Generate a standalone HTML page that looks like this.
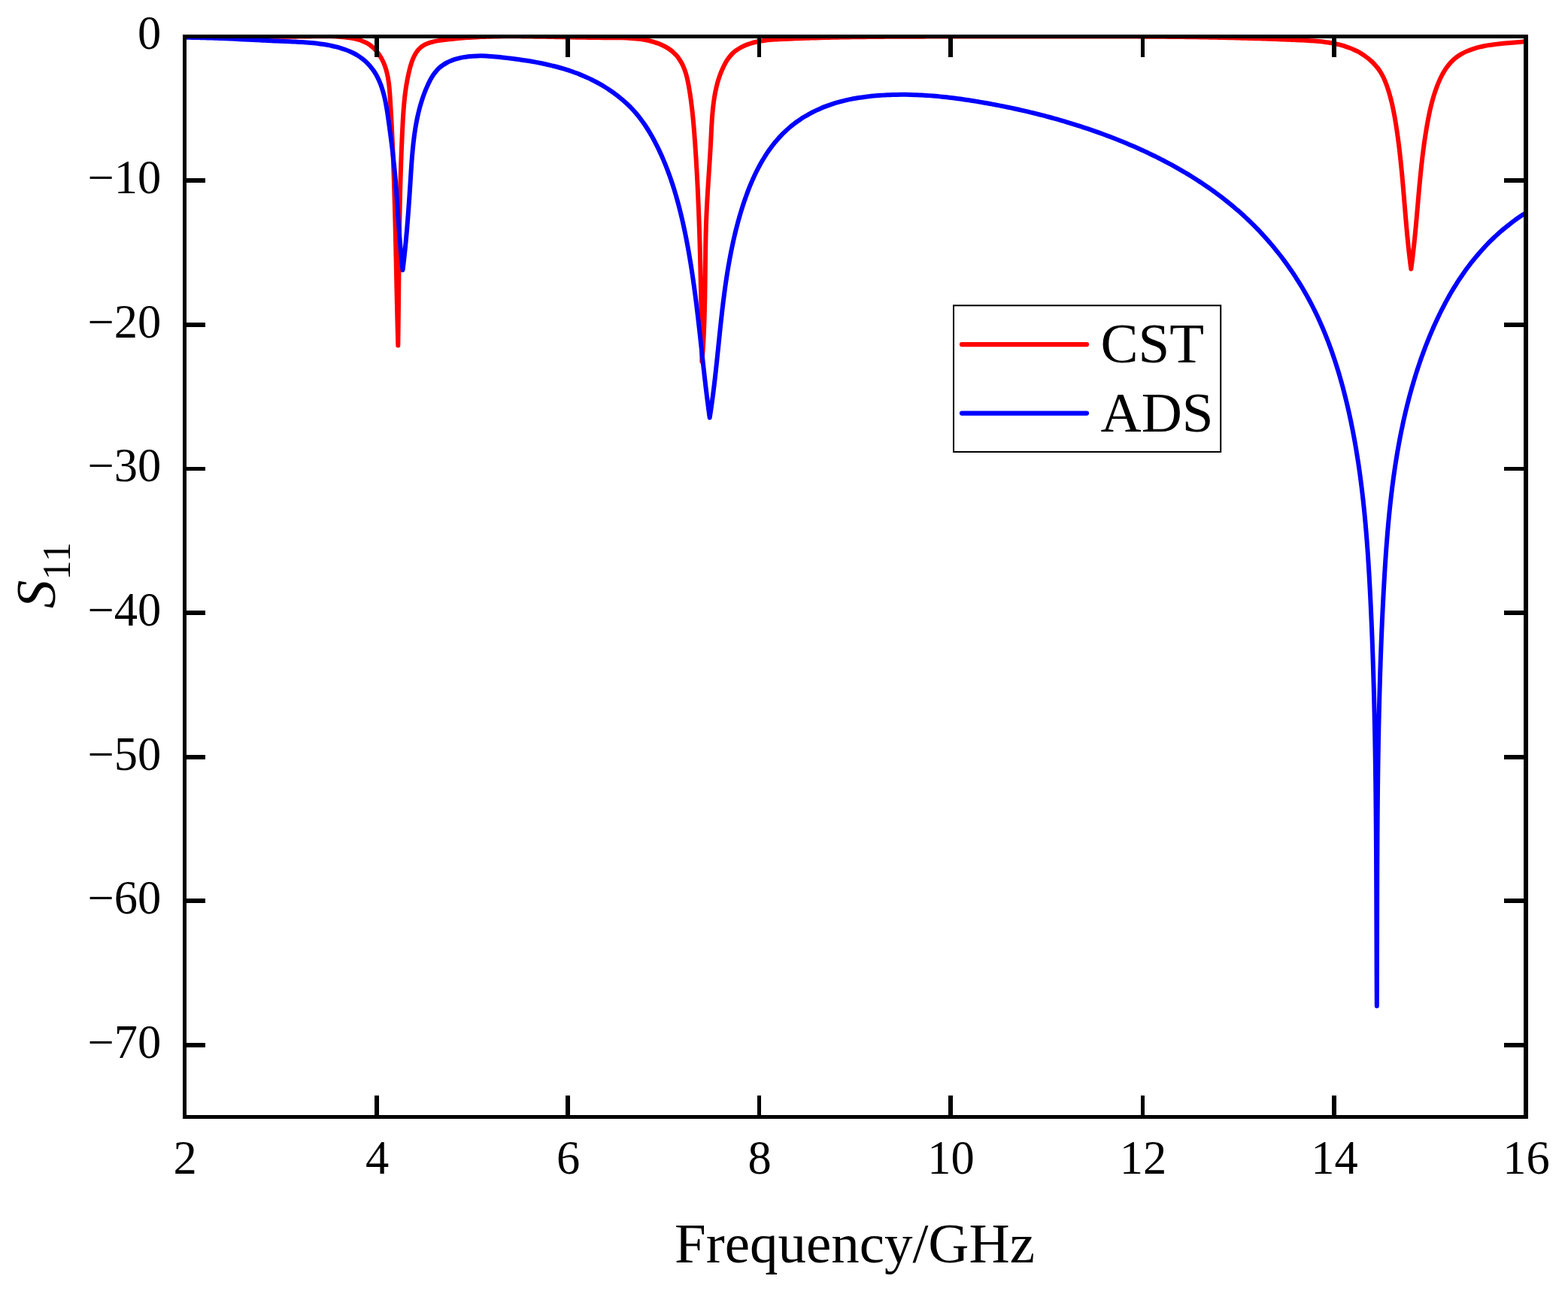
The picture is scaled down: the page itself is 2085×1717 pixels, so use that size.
<!DOCTYPE html>
<html lang="en"><head><meta charset="utf-8"><title>S11 CST vs ADS</title>
<style>
html,body{margin:0;padding:0;background:#fff;}
body{width:2085px;height:1717px;overflow:hidden;}
svg{display:block;}
text{font-family:"Liberation Serif","Times New Roman",serif;fill:#000;}
.t{font-size:62.5px;}
.l{font-size:75px;}
</style></head><body>
<svg width="2085" height="1717" viewBox="0 0 2085 1717">
<rect x="0" y="0" width="2085" height="1717" fill="#ffffff"/>
<defs><clipPath id="c"><rect x="245.5" y="46" width="1783.5" height="1442"/></clipPath></defs>
<g clip-path="url(#c)" fill="none" stroke-width="6.0" stroke-linejoin="round" stroke-linecap="butt">
<path stroke="#ff0000" d="M245.50,48.50C247.54,48.48 249.57,48.46 251.60,48.44C253.64,48.42 255.67,48.41 257.70,48.40C259.73,48.38 261.77,48.37 263.80,48.37C265.83,48.36 267.86,48.35 269.89,48.35C271.92,48.34 273.95,48.34 275.98,48.34C278.00,48.34 280.03,48.34 282.06,48.34C284.09,48.35 286.11,48.35 288.14,48.36C290.17,48.36 292.19,48.37 294.22,48.37C296.24,48.38 298.27,48.39 300.29,48.40C302.32,48.41 304.34,48.42 306.37,48.43C308.39,48.44 310.41,48.45 312.44,48.46C314.46,48.47 316.49,48.48 318.51,48.50C320.53,48.51 322.55,48.52 324.58,48.53C326.60,48.55 328.62,48.56 330.65,48.57C332.67,48.58 334.69,48.59 336.71,48.60C338.74,48.61 340.76,48.62 342.78,48.63C344.80,48.64 346.83,48.65 348.85,48.66C350.87,48.67 352.89,48.68 354.92,48.68C356.94,48.69 358.96,48.70 360.99,48.70C363.01,48.70 365.03,48.71 367.06,48.71C369.08,48.71 371.10,48.71 373.13,48.71C375.15,48.70 377.18,48.70 379.20,48.69C381.22,48.69 383.25,48.68 385.28,48.67C387.30,48.66 389.33,48.65 391.35,48.63C393.38,48.62 395.41,48.60 397.43,48.58C399.46,48.56 401.49,48.54 403.52,48.52C405.54,48.49 407.57,48.47 409.60,48.43C411.63,48.40 413.66,48.37 415.69,48.34C417.72,48.31 419.76,48.28 421.79,48.25C423.83,48.23 425.87,48.21 427.91,48.20C429.95,48.19 432.00,48.20 434.05,48.21C436.09,48.23 438.15,48.27 440.21,48.32C442.27,48.37 444.33,48.45 446.41,48.55C448.48,48.65 450.56,48.77 452.64,48.93C454.73,49.08 456.82,49.26 458.90,49.49C460.98,49.72 463.05,49.99 465.11,50.31C467.16,50.63 469.19,51.00 471.19,51.44C473.19,51.88 475.16,52.39 477.08,52.97C479.00,53.54 480.87,54.20 482.68,54.94C484.50,55.68 486.25,56.51 487.94,57.44C489.62,58.36 491.23,59.39 492.76,60.52C494.29,61.65 495.75,62.88 497.12,64.19C498.50,65.51 499.80,66.91 501.02,68.38C502.25,69.86 503.40,71.41 504.47,73.03C505.55,74.64 506.55,76.32 507.48,78.05C508.41,79.78 509.27,81.56 510.06,83.38C510.85,85.19 511.57,87.05 512.21,88.94C512.86,90.82 513.44,92.73 513.96,94.66C514.48,96.59 514.93,98.54 515.34,100.51C515.74,102.48 516.09,104.46 516.40,106.46C516.71,108.46 516.98,110.47 517.22,112.50C517.45,114.52 517.66,116.55 517.84,118.59C518.02,120.63 518.18,122.67 518.32,124.72C518.47,126.77 518.60,128.82 518.73,130.87C518.86,132.92 518.99,134.97 519.11,137.02C519.24,139.07 519.36,141.11 519.48,143.16C519.60,145.21 519.72,147.25 519.84,149.30C519.95,151.34 520.07,153.38 520.18,155.43C520.29,157.47 520.40,159.51 520.51,161.55C520.62,163.59 520.73,165.63 520.83,167.67C520.94,169.71 521.04,171.75 521.14,173.79C521.24,175.83 521.34,177.86 521.44,179.90C521.53,181.94 521.63,183.97 521.72,186.01C521.82,188.04 521.91,190.08 522.00,192.11C522.09,194.15 522.18,196.18 522.27,198.21C522.35,200.24 522.44,202.28 522.52,204.31C522.61,206.34 522.69,208.37 522.77,210.40C522.85,212.43 522.93,214.46 523.01,216.49C523.09,218.52 523.17,220.54 523.24,222.57C523.32,224.60 523.39,226.63 523.46,228.65C523.54,230.68 523.61,232.71 523.68,234.73C523.75,236.76 523.82,238.79 523.88,240.81C523.95,242.84 524.02,244.86 524.08,246.89C524.15,248.91 524.21,250.93 524.28,252.96C524.34,254.98 524.40,257.01 524.46,259.03C524.53,261.05 524.59,263.08 524.64,265.10C524.70,267.12 524.76,269.14 524.82,271.16C524.88,273.19 524.93,275.21 524.99,277.23C525.04,279.25 525.10,281.27 525.15,283.29C525.21,285.32 525.26,287.34 525.31,289.36C525.37,291.38 525.42,293.40 525.47,295.42C525.52,297.44 525.57,299.46 525.62,301.48C525.67,303.50 525.72,305.52 525.77,307.54C525.82,309.56 525.86,311.58 525.91,313.60C525.96,315.63 526.01,317.65 526.05,319.67C526.10,321.69 526.15,323.71 526.19,325.73C526.24,327.75 526.28,329.77 526.33,331.79C526.37,333.81 526.42,335.83 526.46,337.85C526.51,339.87 526.55,341.89 526.60,343.91C526.64,345.93 526.68,347.96 526.73,349.98C526.77,352.00 526.82,354.02 526.86,356.04C526.90,358.06 526.95,360.09 526.99,362.11C527.03,364.13 527.08,366.15 527.12,368.18C527.16,370.20 527.21,372.22 527.25,374.24C527.30,376.27 527.34,378.29 527.38,380.32C527.43,382.34 527.47,384.36 527.51,386.39C527.56,388.41 527.60,390.44 527.65,392.46C527.69,394.49 527.74,396.52 527.78,398.54C527.83,400.57 527.87,402.60 527.92,404.62C527.97,406.65 528.01,408.68 528.06,410.71C528.11,412.73 528.15,414.76 528.20,416.79C528.25,418.82 528.30,420.85 528.35,422.88C528.40,424.91 528.45,426.94 528.50,428.98C528.55,431.01 528.60,433.04 528.65,435.07C528.70,437.11 528.75,439.14 528.80,441.17C528.86,443.21 528.91,445.24 528.96,447.28C529.02,449.31 529.07,451.35 529.13,453.39C529.19,455.42 529.24,457.46 529.30,459.50L529.30,459.50C529.33,457.49 529.36,455.47 529.39,453.46C529.42,451.44 529.44,449.43 529.47,447.42C529.50,445.40 529.53,443.39 529.55,441.37C529.58,439.35 529.60,437.34 529.63,435.32C529.65,433.31 529.68,431.29 529.70,429.28C529.73,427.26 529.75,425.24 529.77,423.23C529.79,421.21 529.82,419.19 529.84,417.18C529.86,415.16 529.88,413.14 529.91,411.12C529.93,409.11 529.95,407.09 529.97,405.07C529.99,403.05 530.01,401.03 530.03,399.02C530.05,397.00 530.08,394.98 530.10,392.96C530.12,390.94 530.14,388.92 530.16,386.90C530.18,384.89 530.20,382.87 530.22,380.85C530.24,378.83 530.26,376.81 530.28,374.79C530.30,372.77 530.32,370.75 530.34,368.73C530.37,366.71 530.39,364.69 530.41,362.67C530.43,360.66 530.45,358.64 530.47,356.62C530.49,354.60 530.52,352.58 530.54,350.56C530.56,348.54 530.59,346.52 530.61,344.50C530.63,342.48 530.66,340.46 530.68,338.44C530.70,336.42 530.73,334.40 530.75,332.38C530.78,330.36 530.81,328.34 530.83,326.32C530.86,324.30 530.89,322.28 530.91,320.26C530.94,318.24 530.97,316.22 531.00,314.20C531.03,312.18 531.06,310.17 531.09,308.15C531.12,306.13 531.15,304.11 531.18,302.09C531.22,300.07 531.25,298.05 531.28,296.03C531.32,294.01 531.35,291.99 531.39,289.98C531.43,287.96 531.46,285.94 531.50,283.92C531.54,281.90 531.58,279.88 531.62,277.87C531.66,275.85 531.70,273.83 531.74,271.81C531.79,269.80 531.83,267.78 531.88,265.76C531.92,263.74 531.97,261.73 532.02,259.71C532.06,257.69 532.11,255.68 532.16,253.66C532.21,251.64 532.26,249.63 532.32,247.61C532.37,245.60 532.43,243.58 532.48,241.56C532.54,239.55 532.60,237.53 532.65,235.52C532.71,233.50 532.77,231.49 532.84,229.48C532.90,227.46 532.96,225.45 533.03,223.43C533.09,221.42 533.16,219.41 533.23,217.39C533.30,215.38 533.37,213.37 533.44,211.36C533.52,209.34 533.59,207.33 533.67,205.32C533.74,203.31 533.82,201.30 533.90,199.29C533.98,197.28 534.07,195.26 534.15,193.25C534.23,191.24 534.32,189.24 534.41,187.23C534.50,185.22 534.59,183.21 534.68,181.20C534.77,179.19 534.87,177.18 534.96,175.17C535.06,173.17 535.16,171.16 535.26,169.15C535.36,167.15 535.46,165.14 535.57,163.13C535.68,161.13 535.79,159.12 535.91,157.12C536.03,155.11 536.15,153.10 536.29,151.10C536.42,149.09 536.56,147.08 536.72,145.07C536.87,143.06 537.03,141.05 537.21,139.04C537.39,137.03 537.58,135.02 537.79,133.00C537.99,130.99 538.21,128.97 538.45,126.96C538.69,124.94 538.95,122.92 539.23,120.89C539.51,118.87 539.80,116.84 540.12,114.81C540.44,112.79 540.79,110.75 541.15,108.72C541.52,106.68 541.91,104.65 542.33,102.60C542.75,100.56 543.19,98.51 543.67,96.46C544.14,94.41 544.64,92.36 545.18,90.31C545.73,88.27 546.31,86.25 546.95,84.26C547.59,82.28 548.29,80.34 549.05,78.46C549.82,76.59 550.65,74.78 551.57,73.06C552.49,71.35 553.50,69.72 554.61,68.22C555.71,66.71 556.92,65.32 558.24,64.08C559.55,62.84 560.99,61.74 562.53,60.77C564.07,59.81 565.70,58.97 567.42,58.23C569.13,57.50 570.93,56.87 572.79,56.33C574.64,55.78 576.56,55.32 578.52,54.92C580.48,54.51 582.48,54.17 584.50,53.87C586.52,53.56 588.56,53.29 590.60,53.04C592.64,52.79 594.68,52.55 596.72,52.32C598.76,52.09 600.80,51.87 602.84,51.67C604.88,51.47 606.92,51.27 608.96,51.09C611.00,50.91 613.04,50.74 615.07,50.58C617.11,50.42 619.15,50.26 621.18,50.12C623.22,49.98 625.25,49.85 627.29,49.73C629.32,49.61 631.35,49.50 633.38,49.39C635.42,49.29 637.45,49.20 639.48,49.11C641.51,49.02 643.54,48.95 645.57,48.88C647.60,48.81 649.63,48.74 651.66,48.69C653.68,48.63 655.71,48.58 657.74,48.54C659.76,48.50 661.79,48.47 663.81,48.44C665.84,48.41 667.86,48.39 669.88,48.37C671.91,48.35 673.93,48.34 675.95,48.33C677.97,48.33 679.99,48.33 682.01,48.33C684.03,48.33 686.04,48.34 688.06,48.35C690.08,48.36 692.09,48.38 694.11,48.40C696.12,48.42 698.14,48.44 700.15,48.46C702.17,48.49 704.18,48.52 706.19,48.55C708.20,48.58 710.21,48.61 712.22,48.64C714.23,48.68 716.24,48.72 718.24,48.75C720.25,48.79 722.26,48.83 724.26,48.87C726.27,48.91 728.27,48.95 730.27,48.99C732.28,49.03 734.28,49.07 736.28,49.11C738.28,49.15 740.28,49.19 742.28,49.23C744.28,49.27 746.28,49.31 748.27,49.35C750.27,49.39 752.27,49.43 754.27,49.46C756.27,49.50 758.27,49.54 760.27,49.57C762.27,49.61 764.27,49.64 766.27,49.67C768.28,49.71 770.28,49.74 772.29,49.77C774.30,49.80 776.31,49.83 778.32,49.86C780.33,49.89 782.35,49.92 784.36,49.94C786.38,49.97 788.40,49.99 790.43,50.01C792.46,50.04 794.48,50.06 796.52,50.08C798.55,50.10 800.59,50.11 802.64,50.13C804.68,50.15 806.73,50.16 808.78,50.17C810.84,50.18 812.90,50.19 814.96,50.20C817.03,50.22 819.09,50.23 821.16,50.25C823.23,50.28 825.30,50.31 827.36,50.36C829.43,50.41 831.49,50.48 833.55,50.56C835.60,50.65 837.65,50.76 839.70,50.89C841.74,51.03 843.77,51.19 845.80,51.39C847.82,51.58 849.83,51.82 851.83,52.09C853.83,52.36 855.81,52.67 857.78,53.03C859.74,53.38 861.69,53.79 863.62,54.24C865.55,54.70 867.46,55.20 869.35,55.77C871.23,56.34 873.09,56.96 874.93,57.65C876.77,58.34 878.58,59.09 880.36,59.92C882.14,60.74 883.89,61.64 885.60,62.61C887.31,63.58 888.98,64.63 890.58,65.76C892.18,66.89 893.72,68.11 895.18,69.41C896.64,70.71 898.02,72.10 899.31,73.57C900.61,75.04 901.82,76.59 902.94,78.21C904.07,79.82 905.12,81.51 906.07,83.24C907.03,84.98 907.90,86.77 908.70,88.60C909.50,90.44 910.22,92.31 910.87,94.23C911.53,96.14 912.13,98.09 912.67,100.06C913.21,102.03 913.70,104.03 914.15,106.04C914.60,108.05 915.02,110.08 915.40,112.12C915.78,114.16 916.14,116.20 916.48,118.24C916.82,120.28 917.14,122.32 917.46,124.35C917.77,126.39 918.07,128.42 918.35,130.44C918.64,132.47 918.91,134.50 919.18,136.52C919.44,138.54 919.69,140.56 919.93,142.58C920.17,144.59 920.40,146.61 920.62,148.62C920.84,150.63 921.06,152.65 921.26,154.66C921.46,156.66 921.66,158.67 921.85,160.68C922.03,162.69 922.21,164.69 922.39,166.70C922.56,168.70 922.73,170.70 922.89,172.71C923.05,174.71 923.21,176.71 923.36,178.72C923.51,180.72 923.66,182.72 923.80,184.72C923.95,186.73 924.09,188.73 924.23,190.73C924.37,192.74 924.50,194.74 924.64,196.74C924.77,198.75 924.90,200.75 925.03,202.76C925.16,204.77 925.29,206.77 925.41,208.78C925.54,210.79 925.66,212.79 925.78,214.80C925.90,216.81 926.02,218.82 926.14,220.83C926.25,222.83 926.37,224.84 926.48,226.85C926.59,228.86 926.70,230.87 926.81,232.88C926.92,234.90 927.02,236.91 927.13,238.92C927.23,240.93 927.34,242.94 927.44,244.95C927.54,246.97 927.63,248.98 927.73,250.99C927.83,253.01 927.92,255.02 928.02,257.03C928.11,259.05 928.20,261.06 928.29,263.08C928.38,265.09 928.47,267.11 928.55,269.12C928.64,271.14 928.72,273.15 928.81,275.17C928.89,277.18 928.97,279.20 929.05,281.22C929.13,283.23 929.21,285.25 929.28,287.27C929.36,289.28 929.43,291.30 929.51,293.32C929.58,295.33 929.65,297.35 929.72,299.37C929.79,301.39 929.86,303.41 929.93,305.42C929.99,307.44 930.06,309.46 930.12,311.48C930.19,313.50 930.25,315.52 930.31,317.54C930.38,319.56 930.44,321.58 930.50,323.59C930.55,325.61 930.61,327.63 930.67,329.65C930.73,331.67 930.78,333.69 930.84,335.71C930.89,337.73 930.94,339.75 931.00,341.77C931.05,343.79 931.10,345.81 931.15,347.83C931.20,349.85 931.25,351.87 931.29,353.89C931.34,355.91 931.39,357.93 931.43,359.95C931.48,361.97 931.53,363.99 931.57,366.01C931.61,368.03 931.66,370.05 931.70,372.07C931.74,374.09 931.78,376.11 931.82,378.13C931.86,380.15 931.90,382.17 931.94,384.19C931.98,386.21 932.02,388.23 932.05,390.25C932.09,392.27 932.13,394.29 932.16,396.31C932.20,398.33 932.23,400.35 932.27,402.37C932.30,404.39 932.34,406.41 932.37,408.43C932.40,410.44 932.44,412.46 932.47,414.48C932.50,416.50 932.53,418.52 932.56,420.54C932.59,422.55 932.63,424.57 932.66,426.59C932.69,428.61 932.72,430.63 932.75,432.64C932.77,434.66 932.80,436.68 932.83,438.69C932.86,440.71 932.89,442.73 932.92,444.74C932.95,446.76 932.97,448.78 933.00,450.79C933.03,452.81 933.05,454.82 933.08,456.84C933.11,458.85 933.14,460.87 933.16,462.88C933.19,464.90 933.22,466.91 933.24,468.92C933.27,470.94 933.29,472.95 933.32,474.96C933.35,476.98 933.37,478.99 933.40,481.00L933.40,481.00C933.57,479.01 933.74,477.01 933.90,475.02C934.06,473.02 934.21,471.02 934.35,469.03C934.50,467.03 934.64,465.03 934.77,463.03C934.90,461.03 935.02,459.02 935.14,457.02C935.26,455.02 935.38,453.01 935.48,451.01C935.59,449.00 935.69,447.00 935.79,444.99C935.88,442.98 935.98,440.98 936.06,438.97C936.15,436.96 936.23,434.95 936.31,432.94C936.38,430.93 936.46,428.92 936.52,426.90C936.59,424.89 936.66,422.88 936.72,420.87C936.78,418.85 936.83,416.84 936.89,414.82C936.94,412.81 936.99,410.80 937.04,408.78C937.08,406.76 937.13,404.75 937.17,402.73C937.21,400.72 937.25,398.70 937.28,396.68C937.32,394.67 937.35,392.65 937.39,390.63C937.42,388.61 937.45,386.60 937.48,384.58C937.51,382.56 937.54,380.54 937.56,378.53C937.59,376.51 937.61,374.49 937.64,372.47C937.66,370.46 937.69,368.44 937.71,366.42C937.74,364.40 937.76,362.39 937.78,360.37C937.81,358.35 937.83,356.33 937.86,354.32C937.88,352.30 937.90,350.28 937.93,348.27C937.96,346.25 937.98,344.24 938.01,342.22C938.04,340.21 938.07,338.19 938.10,336.18C938.13,334.16 938.16,332.15 938.19,330.14C938.23,328.12 938.26,326.11 938.30,324.10C938.34,322.09 938.38,320.08 938.43,318.07C938.47,316.06 938.52,314.05 938.56,312.04C938.61,310.03 938.67,308.02 938.72,306.02C938.78,304.01 938.84,302.00 938.90,300.00C938.97,297.99 939.03,295.99 939.11,293.99C939.18,291.98 939.25,289.98 939.34,287.98C939.42,285.98 939.50,283.98 939.59,281.99C939.68,279.99 939.78,277.99 939.88,276.00C939.98,274.00 940.08,272.00 940.19,270.01C940.29,268.01 940.40,266.02 940.52,264.03C940.63,262.03 940.75,260.04 940.87,258.05C940.99,256.05 941.11,254.06 941.23,252.07C941.35,250.07 941.48,248.08 941.61,246.08C941.73,244.09 941.86,242.09 941.99,240.10C942.12,238.10 942.25,236.10 942.38,234.11C942.51,232.11 942.64,230.11 942.77,228.11C942.90,226.11 943.03,224.11 943.16,222.10C943.29,220.10 943.42,218.10 943.55,216.09C943.68,214.08 943.81,212.07 943.93,210.06C944.06,208.05 944.18,206.04 944.30,204.02C944.42,202.01 944.54,199.99 944.66,197.97C944.77,195.95 944.89,193.92 945.00,191.89C945.11,189.87 945.21,187.84 945.31,185.80C945.42,183.77 945.52,181.74 945.62,179.70C945.72,177.66 945.82,175.62 945.92,173.58C946.02,171.54 946.13,169.50 946.25,167.46C946.36,165.42 946.48,163.38 946.61,161.34C946.74,159.30 946.88,157.27 947.03,155.24C947.18,153.20 947.35,151.18 947.53,149.15C947.71,147.13 947.91,145.10 948.12,143.09C948.34,141.07 948.58,139.07 948.84,137.06C949.10,135.06 949.38,133.06 949.68,131.08C949.99,129.09 950.32,127.11 950.69,125.14C951.05,123.17 951.44,121.21 951.86,119.25C952.28,117.30 952.74,115.36 953.23,113.43C953.72,111.51 954.24,109.59 954.81,107.68C955.37,105.78 955.97,103.89 956.62,102.01C957.26,100.13 957.95,98.27 958.68,96.42C959.41,94.57 960.19,92.74 961.01,90.93C961.83,89.11 962.71,87.31 963.64,85.55C964.57,83.80 965.56,82.07 966.62,80.41C967.69,78.75 968.82,77.14 970.03,75.61C971.24,74.08 972.53,72.62 973.91,71.26C975.29,69.90 976.77,68.64 978.31,67.47C979.86,66.29 981.48,65.21 983.17,64.21C984.85,63.20 986.59,62.29 988.38,61.45C990.17,60.61 992.00,59.84 993.85,59.15C995.71,58.46 997.60,57.84 999.51,57.28C1001.42,56.72 1003.36,56.23 1005.31,55.79C1007.27,55.34 1009.24,54.96 1011.24,54.62C1013.23,54.28 1015.24,53.98 1017.26,53.72C1019.28,53.47 1021.31,53.25 1023.35,53.06C1025.39,52.87 1027.44,52.71 1029.49,52.57C1031.55,52.42 1033.60,52.30 1035.66,52.20C1037.72,52.09 1039.78,51.99 1041.83,51.90C1043.89,51.81 1045.94,51.72 1047.98,51.64C1050.03,51.55 1052.07,51.47 1054.11,51.39C1056.14,51.31 1058.18,51.23 1060.21,51.16C1062.24,51.08 1064.27,51.01 1066.29,50.94C1068.32,50.87 1070.34,50.81 1072.36,50.74C1074.37,50.67 1076.39,50.61 1078.40,50.55C1080.42,50.49 1082.43,50.43 1084.44,50.38C1086.44,50.32 1088.45,50.26 1090.46,50.21C1092.46,50.16 1094.46,50.11 1096.47,50.06C1098.47,50.01 1100.47,49.97 1102.47,49.92C1104.47,49.88 1106.46,49.83 1108.46,49.79C1110.46,49.75 1112.45,49.71 1114.45,49.67C1116.45,49.63 1118.44,49.60 1120.44,49.56C1122.43,49.53 1124.43,49.49 1126.42,49.46C1128.42,49.43 1130.41,49.40 1132.41,49.37C1134.40,49.34 1136.40,49.31 1138.40,49.28C1140.40,49.25 1142.39,49.23 1144.39,49.20C1146.39,49.17 1148.39,49.15 1150.39,49.13C1152.39,49.10 1154.40,49.08 1156.40,49.06C1158.40,49.04 1160.40,49.02 1162.41,49.00C1164.41,48.98 1166.42,48.96 1168.42,48.94C1170.43,48.92 1172.43,48.91 1174.44,48.89C1176.45,48.87 1178.45,48.86 1180.46,48.84C1182.47,48.83 1184.48,48.82 1186.49,48.80C1188.50,48.79 1190.51,48.78 1192.52,48.77C1194.53,48.75 1196.54,48.74 1198.55,48.73C1200.56,48.72 1202.58,48.71 1204.59,48.71C1206.60,48.70 1208.62,48.69 1210.63,48.68C1212.64,48.67 1214.66,48.67 1216.67,48.66C1218.69,48.65 1220.70,48.65 1222.71,48.64C1224.73,48.64 1226.75,48.63 1228.76,48.63C1230.78,48.62 1232.79,48.62 1234.81,48.62C1236.83,48.61 1238.84,48.61 1240.86,48.61C1242.88,48.61 1244.89,48.60 1246.91,48.60C1248.93,48.60 1250.94,48.60 1252.96,48.60C1254.98,48.60 1257.00,48.59 1259.02,48.59C1261.03,48.59 1263.05,48.59 1265.07,48.59C1267.09,48.59 1269.11,48.59 1271.12,48.59C1273.14,48.59 1275.16,48.59 1277.18,48.59C1279.20,48.59 1281.21,48.59 1283.23,48.60C1285.25,48.60 1287.27,48.60 1289.29,48.60C1291.30,48.60 1293.32,48.60 1295.34,48.60C1297.36,48.60 1299.37,48.60 1301.39,48.60C1303.41,48.60 1305.42,48.60 1307.44,48.61C1309.46,48.61 1311.48,48.61 1313.49,48.61C1315.51,48.61 1317.52,48.61 1319.54,48.61C1321.56,48.61 1323.57,48.61 1325.59,48.61C1327.60,48.61 1329.62,48.61 1331.63,48.61C1333.64,48.61 1335.66,48.61 1337.67,48.61C1339.69,48.61 1341.70,48.60 1343.71,48.60C1345.72,48.60 1347.74,48.60 1349.75,48.60C1351.76,48.60 1353.77,48.59 1355.78,48.59C1357.80,48.59 1359.81,48.59 1361.82,48.58C1363.83,48.58 1365.84,48.58 1367.85,48.58C1369.86,48.57 1371.87,48.57 1373.88,48.57C1375.89,48.56 1377.90,48.56 1379.90,48.56C1381.91,48.56 1383.92,48.55 1385.93,48.55C1387.94,48.55 1389.95,48.54 1391.95,48.54C1393.96,48.54 1395.97,48.53 1397.98,48.53C1399.98,48.53 1401.99,48.52 1404.00,48.52C1406.01,48.52 1408.01,48.52 1410.02,48.51C1412.03,48.51 1414.03,48.51 1416.04,48.50C1418.04,48.50 1420.05,48.50 1422.06,48.50C1424.06,48.50 1426.07,48.49 1428.07,48.49C1430.08,48.49 1432.08,48.49 1434.09,48.49C1436.09,48.49 1438.10,48.48 1440.10,48.48C1442.11,48.48 1444.11,48.48 1446.12,48.48C1448.12,48.48 1450.13,48.48 1452.13,48.48C1454.14,48.48 1456.14,48.48 1458.15,48.48C1460.15,48.48 1462.16,48.48 1464.16,48.49C1466.17,48.49 1468.17,48.49 1470.17,48.49C1472.18,48.49 1474.18,48.50 1476.19,48.50C1478.19,48.50 1480.20,48.51 1482.20,48.51C1484.21,48.52 1486.21,48.52 1488.22,48.53C1490.22,48.53 1492.23,48.54 1494.23,48.54C1496.23,48.55 1498.24,48.56 1500.24,48.56C1502.25,48.57 1504.25,48.58 1506.26,48.59C1508.26,48.60 1510.27,48.60 1512.27,48.61C1514.28,48.62 1516.29,48.63 1518.29,48.64C1520.30,48.66 1522.30,48.67 1524.31,48.68C1526.31,48.69 1528.32,48.70 1530.33,48.72C1532.33,48.73 1534.34,48.75 1536.34,48.76C1538.35,48.78 1540.36,48.79 1542.36,48.81C1544.37,48.83 1546.38,48.84 1548.39,48.86C1550.39,48.88 1552.40,48.90 1554.41,48.92C1556.42,48.94 1558.42,48.96 1560.43,48.98C1562.44,49.00 1564.45,49.02 1566.46,49.05C1568.47,49.07 1570.48,49.09 1572.49,49.12C1574.49,49.14 1576.50,49.17 1578.51,49.20C1580.52,49.22 1582.53,49.25 1584.55,49.28C1586.56,49.31 1588.57,49.34 1590.58,49.37C1592.59,49.40 1594.60,49.43 1596.61,49.47C1598.63,49.50 1600.64,49.53 1602.65,49.57C1604.66,49.60 1606.68,49.64 1608.69,49.68C1610.70,49.71 1612.72,49.75 1614.73,49.79C1616.75,49.83 1618.76,49.87 1620.78,49.91C1622.79,49.96 1624.81,50.00 1626.82,50.04C1628.84,50.09 1630.86,50.13 1632.87,50.18C1634.89,50.22 1636.91,50.27 1638.93,50.32C1640.94,50.37 1642.96,50.42 1644.98,50.47C1647.00,50.52 1649.02,50.58 1651.04,50.63C1653.06,50.69 1655.08,50.74 1657.10,50.80C1659.12,50.85 1661.15,50.91 1663.17,50.97C1665.19,51.03 1667.21,51.09 1669.24,51.15C1671.26,51.22 1673.28,51.28 1675.31,51.35C1677.33,51.41 1679.36,51.48 1681.38,51.55C1683.41,51.61 1685.44,51.68 1687.46,51.75C1689.49,51.83 1691.52,51.90 1693.55,51.97C1695.58,52.05 1697.60,52.12 1699.63,52.20C1701.66,52.28 1703.69,52.35 1705.73,52.43C1707.76,52.51 1709.79,52.60 1711.82,52.68C1713.85,52.76 1715.89,52.85 1717.92,52.94C1719.95,53.02 1721.99,53.11 1724.02,53.20C1726.06,53.29 1728.10,53.38 1730.13,53.48C1732.17,53.57 1734.20,53.67 1736.24,53.78C1738.27,53.89 1740.30,54.01 1742.33,54.14C1744.35,54.27 1746.38,54.41 1748.39,54.57C1750.41,54.73 1752.42,54.90 1754.42,55.10C1756.42,55.30 1758.42,55.52 1760.40,55.76C1762.39,56.00 1764.36,56.27 1766.33,56.57C1768.29,56.86 1770.24,57.19 1772.18,57.55C1774.12,57.91 1776.05,58.30 1777.96,58.73C1779.87,59.16 1781.77,59.62 1783.65,60.13C1785.52,60.64 1787.39,61.18 1789.23,61.78C1791.07,62.37 1792.90,63.01 1794.70,63.70C1796.50,64.39 1798.29,65.12 1800.05,65.91C1801.81,66.70 1803.55,67.55 1805.26,68.45C1806.98,69.35 1808.67,70.31 1810.33,71.33C1811.99,72.35 1813.63,73.43 1815.24,74.58C1816.85,75.73 1818.44,76.94 1819.99,78.22C1821.54,79.50 1823.05,80.85 1824.52,82.26C1825.99,83.66 1827.41,85.13 1828.76,86.66C1830.12,88.18 1831.41,89.76 1832.63,91.40C1833.85,93.03 1834.99,94.72 1836.05,96.45C1837.11,98.18 1838.08,99.96 1838.99,101.77C1839.90,103.58 1840.74,105.43 1841.53,107.30C1842.31,109.17 1843.05,111.06 1843.74,112.97C1844.43,114.88 1845.08,116.80 1845.71,118.73C1846.33,120.66 1846.92,122.59 1847.49,124.53C1848.05,126.47 1848.59,128.42 1849.10,130.37C1849.61,132.32 1850.10,134.27 1850.57,136.23C1851.03,138.19 1851.47,140.16 1851.90,142.13C1852.32,144.10 1852.73,146.07 1853.12,148.04C1853.51,150.02 1853.88,151.99 1854.24,153.97C1854.60,155.95 1854.94,157.94 1855.28,159.92C1855.61,161.90 1855.94,163.89 1856.25,165.87C1856.57,167.86 1856.88,169.85 1857.18,171.84C1857.48,173.82 1857.77,175.81 1858.05,177.80C1858.34,179.79 1858.61,181.78 1858.88,183.77C1859.15,185.77 1859.41,187.76 1859.67,189.75C1859.92,191.74 1860.17,193.74 1860.42,195.73C1860.66,197.73 1860.89,199.72 1861.13,201.72C1861.36,203.72 1861.58,205.71 1861.80,207.71C1862.02,209.71 1862.24,211.71 1862.45,213.70C1862.66,215.70 1862.86,217.70 1863.06,219.70C1863.27,221.70 1863.46,223.70 1863.66,225.70C1863.85,227.70 1864.04,229.70 1864.23,231.71C1864.41,233.71 1864.60,235.71 1864.78,237.71C1864.96,239.71 1865.14,241.72 1865.31,243.72C1865.49,245.72 1865.66,247.73 1865.83,249.73C1866.00,251.73 1866.17,253.74 1866.34,255.74C1866.51,257.74 1866.68,259.75 1866.85,261.75C1867.01,263.76 1867.18,265.76 1867.35,267.76C1867.51,269.77 1867.68,271.77 1867.84,273.78C1868.01,275.78 1868.18,277.79 1868.34,279.79C1868.51,281.79 1868.68,283.80 1868.85,285.80C1869.01,287.81 1869.18,289.81 1869.36,291.81C1869.53,293.82 1869.70,295.82 1869.88,297.83C1870.05,299.83 1870.23,301.83 1870.41,303.83C1870.59,305.84 1870.78,307.84 1870.96,309.84C1871.15,311.84 1871.34,313.85 1871.53,315.85C1871.72,317.85 1871.92,319.85 1872.12,321.85C1872.32,323.85 1872.53,325.85 1872.74,327.85C1872.95,329.85 1873.16,331.85 1873.38,333.85C1873.60,335.85 1873.83,337.84 1874.06,339.84C1874.29,341.84 1874.53,343.84 1874.77,345.83C1875.01,347.83 1875.26,349.82 1875.51,351.82C1875.77,353.81 1876.03,355.81 1876.30,357.80L1876.30,357.80C1876.59,355.75 1876.87,353.70 1877.14,351.65C1877.42,349.61 1877.68,347.56 1877.94,345.51C1878.20,343.46 1878.45,341.41 1878.70,339.36C1878.94,337.31 1879.18,335.26 1879.41,333.21C1879.65,331.16 1879.87,329.12 1880.10,327.07C1880.32,325.02 1880.54,322.97 1880.75,320.92C1880.96,318.87 1881.17,316.82 1881.37,314.77C1881.58,312.72 1881.78,310.67 1881.97,308.63C1882.17,306.58 1882.36,304.53 1882.56,302.48C1882.75,300.43 1882.93,298.38 1883.12,296.33C1883.30,294.28 1883.49,292.24 1883.67,290.19C1883.85,288.14 1884.03,286.09 1884.21,284.04C1884.39,281.99 1884.57,279.95 1884.75,277.90C1884.92,275.85 1885.10,273.80 1885.28,271.75C1885.46,269.71 1885.63,267.66 1885.81,265.61C1885.99,263.56 1886.17,261.52 1886.35,259.47C1886.53,257.42 1886.71,255.37 1886.90,253.33C1887.08,251.28 1887.27,249.23 1887.46,247.19C1887.65,245.14 1887.84,243.09 1888.03,241.05C1888.23,239.00 1888.42,236.96 1888.62,234.91C1888.82,232.87 1889.03,230.82 1889.24,228.77C1889.45,226.73 1889.66,224.68 1889.88,222.64C1890.10,220.60 1890.32,218.55 1890.55,216.51C1890.78,214.46 1891.01,212.42 1891.26,210.38C1891.50,208.33 1891.74,206.29 1892.00,204.25C1892.25,202.20 1892.51,200.16 1892.78,198.12C1893.04,196.07 1893.32,194.03 1893.60,191.99C1893.89,189.95 1894.18,187.91 1894.47,185.87C1894.77,183.83 1895.08,181.79 1895.40,179.75C1895.71,177.70 1896.04,175.66 1896.38,173.63C1896.71,171.59 1897.06,169.55 1897.41,167.51C1897.77,165.47 1898.13,163.43 1898.51,161.39C1898.89,159.36 1899.28,157.32 1899.68,155.28C1900.08,153.25 1900.50,151.22 1900.94,149.19C1901.38,147.16 1901.83,145.14 1902.31,143.12C1902.79,141.10 1903.28,139.08 1903.80,137.07C1904.32,135.07 1904.87,133.06 1905.44,131.07C1906.01,129.07 1906.61,127.09 1907.24,125.11C1907.86,123.13 1908.52,121.16 1909.21,119.20C1909.90,117.24 1910.62,115.29 1911.38,113.35C1912.14,111.42 1912.93,109.50 1913.77,107.60C1914.61,105.71 1915.48,103.84 1916.41,102.00C1917.33,100.16 1918.30,98.36 1919.32,96.60C1920.34,94.83 1921.41,93.12 1922.53,91.45C1923.66,89.78 1924.84,88.17 1926.08,86.61C1927.32,85.05 1928.62,83.56 1929.99,82.14C1931.35,80.71 1932.78,79.36 1934.28,78.08C1935.77,76.80 1937.34,75.61 1938.98,74.49C1940.61,73.37 1942.31,72.32 1944.06,71.35C1945.81,70.38 1947.62,69.48 1949.47,68.64C1951.33,67.80 1953.23,67.03 1955.17,66.32C1957.10,65.60 1959.08,64.94 1961.09,64.34C1963.09,63.74 1965.12,63.19 1967.18,62.68C1969.23,62.18 1971.31,61.72 1973.39,61.30C1975.48,60.88 1977.58,60.51 1979.68,60.16C1981.78,59.82 1983.89,59.51 1985.99,59.23C1988.09,58.95 1990.19,58.70 1992.29,58.47C1994.39,58.24 1996.48,58.03 1998.57,57.83C2000.66,57.64 2002.74,57.46 2004.81,57.28C2006.88,57.11 2008.94,56.94 2010.99,56.77C2013.03,56.61 2015.07,56.44 2017.09,56.27C2019.11,56.10 2021.11,55.92 2023.10,55.72C2025.09,55.53 2027.05,55.33 2029.00,55.10"/>
<path stroke="#0000ff" d="M245.50,49.80C247.56,49.82 249.62,49.84 251.68,49.86C253.74,49.89 255.80,49.92 257.85,49.96C259.90,49.99 261.95,50.04 264.00,50.08C266.04,50.13 268.09,50.18 270.13,50.23C272.17,50.29 274.22,50.35 276.25,50.41C278.29,50.47 280.33,50.54 282.37,50.61C284.40,50.68 286.44,50.75 288.47,50.82C290.50,50.90 292.53,50.98 294.56,51.06C296.59,51.14 298.62,51.23 300.65,51.32C302.68,51.40 304.71,51.49 306.74,51.58C308.76,51.67 310.79,51.77 312.82,51.86C314.84,51.96 316.87,52.05 318.89,52.15C320.92,52.25 322.95,52.35 324.97,52.45C327.00,52.55 329.03,52.65 331.05,52.75C333.08,52.85 335.11,52.95 337.14,53.05C339.17,53.15 341.20,53.26 343.23,53.36C345.26,53.46 347.29,53.56 349.32,53.66C351.35,53.76 353.39,53.86 355.42,53.96C357.46,54.06 359.50,54.16 361.54,54.26C363.58,54.36 365.62,54.45 367.66,54.55C369.70,54.64 371.75,54.73 373.80,54.82C375.84,54.91 377.89,55.00 379.95,55.09C382.00,55.18 384.05,55.26 386.11,55.35C388.17,55.44 390.22,55.53 392.28,55.62C394.34,55.72 396.40,55.82 398.46,55.93C400.52,56.04 402.57,56.16 404.63,56.30C406.69,56.43 408.74,56.58 410.80,56.74C412.85,56.91 414.90,57.09 416.95,57.30C418.99,57.50 421.04,57.73 423.08,57.98C425.12,58.23 427.16,58.50 429.19,58.80C431.22,59.11 433.25,59.44 435.27,59.80C437.29,60.17 439.30,60.56 441.31,61.00C443.32,61.43 445.32,61.90 447.31,62.41C449.30,62.91 451.28,63.46 453.25,64.06C455.21,64.65 457.16,65.29 459.08,65.98C461.01,66.68 462.90,67.42 464.77,68.22C466.63,69.02 468.46,69.87 470.25,70.79C472.04,71.71 473.78,72.69 475.48,73.74C477.18,74.78 478.83,75.90 480.42,77.08C482.01,78.26 483.55,79.51 485.04,80.81C486.52,82.12 487.95,83.48 489.32,84.91C490.69,86.33 492.00,87.80 493.25,89.33C494.49,90.86 495.68,92.44 496.80,94.07C497.92,95.69 498.98,97.37 499.97,99.08C500.96,100.80 501.89,102.55 502.76,104.35C503.63,106.14 504.44,107.97 505.20,109.84C505.96,111.70 506.67,113.60 507.33,115.52C507.99,117.44 508.61,119.40 509.18,121.37C509.75,123.34 510.28,125.34 510.78,127.36C511.28,129.37 511.74,131.40 512.18,133.45C512.61,135.50 513.01,137.56 513.40,139.62C513.78,141.69 514.13,143.77 514.47,145.85C514.81,147.93 515.14,150.01 515.45,152.09C515.76,154.17 516.05,156.25 516.35,158.33C516.64,160.40 516.92,162.47 517.21,164.53C517.49,166.59 517.77,168.64 518.05,170.69C518.33,172.73 518.60,174.77 518.87,176.80C519.14,178.83 519.41,180.85 519.67,182.87C519.94,184.89 520.20,186.91 520.45,188.92C520.71,190.93 520.96,192.94 521.21,194.94C521.45,196.95 521.69,198.95 521.93,200.95C522.17,202.96 522.40,204.96 522.63,206.96C522.86,208.96 523.08,210.96 523.30,212.96C523.52,214.96 523.73,216.96 523.94,218.96C524.15,220.96 524.35,222.97 524.54,224.98C524.74,226.99 524.93,229.00 525.12,231.01C525.30,233.03 525.48,235.05 525.66,237.07C525.83,239.09 526.00,241.11 526.17,243.14C526.33,245.17 526.49,247.20 526.65,249.23C526.81,251.26 526.97,253.30 527.12,255.33C527.27,257.37 527.42,259.41 527.57,261.45C527.71,263.49 527.86,265.53 528.00,267.57C528.14,269.62 528.29,271.66 528.43,273.70C528.57,275.75 528.71,277.80 528.85,279.84C528.98,281.89 529.12,283.94 529.26,285.98C529.40,288.03 529.54,290.08 529.68,292.13C529.82,294.17 529.96,296.22 530.11,298.27C530.25,300.31 530.39,302.36 530.54,304.41C530.69,306.45 530.84,308.50 530.99,310.54C531.14,312.59 531.30,314.63 531.45,316.67C531.61,318.71 531.77,320.75 531.94,322.79C532.10,324.83 532.27,326.86 532.45,328.90C532.62,330.93 532.80,332.96 532.99,334.99C533.17,337.02 533.36,339.05 533.56,341.07C533.75,343.10 533.96,345.12 534.16,347.13C534.37,349.15 534.59,351.17 534.81,353.18C535.03,355.19 535.26,357.20 535.50,359.20L535.50,359.20C535.75,357.18 536.00,355.17 536.24,353.16C536.49,351.14 536.72,349.13 536.95,347.12C537.18,345.12 537.41,343.11 537.63,341.10C537.85,339.10 538.07,337.10 538.28,335.09C538.49,333.09 538.69,331.09 538.90,329.09C539.10,327.09 539.29,325.09 539.49,323.10C539.68,321.10 539.87,319.10 540.05,317.11C540.23,315.11 540.41,313.12 540.59,311.12C540.77,309.13 540.94,307.13 541.11,305.14C541.28,303.15 541.45,301.15 541.61,299.16C541.77,297.17 541.93,295.17 542.09,293.18C542.25,291.19 542.40,289.19 542.55,287.20C542.70,285.20 542.85,283.21 543.00,281.22C543.15,279.22 543.29,277.22 543.43,275.23C543.57,273.23 543.72,271.23 543.85,269.24C543.99,267.24 544.13,265.24 544.27,263.24C544.40,261.24 544.54,259.24 544.67,257.23C544.80,255.23 544.94,253.22 545.07,251.22C545.20,249.21 545.33,247.20 545.46,245.19C545.59,243.18 545.72,241.17 545.85,239.15C545.98,237.14 546.11,235.12 546.24,233.10C546.36,231.09 546.50,229.06 546.63,227.04C546.76,225.02 546.90,223.00 547.04,220.97C547.18,218.95 547.32,216.93 547.47,214.90C547.62,212.88 547.77,210.85 547.94,208.83C548.10,206.80 548.27,204.78 548.45,202.76C548.63,200.74 548.81,198.71 549.01,196.69C549.21,194.68 549.42,192.66 549.64,190.64C549.86,188.63 550.10,186.62 550.35,184.61C550.60,182.60 550.86,180.59 551.13,178.59C551.41,176.58 551.71,174.58 552.02,172.59C552.33,170.59 552.65,168.60 553.00,166.62C553.35,164.63 553.71,162.65 554.10,160.67C554.49,158.70 554.89,156.73 555.32,154.76C555.75,152.80 556.20,150.84 556.68,148.89C557.15,146.94 557.65,145.00 558.17,143.06C558.70,141.12 559.25,139.19 559.82,137.27C560.40,135.35 561.00,133.43 561.64,131.53C562.27,129.62 562.93,127.73 563.62,125.84C564.31,123.95 565.04,122.07 565.79,120.21C566.54,118.34 567.33,116.48 568.15,114.63C568.97,112.78 569.83,110.95 570.73,109.15C571.63,107.34 572.58,105.57 573.58,103.85C574.58,102.12 575.64,100.45 576.77,98.84C577.90,97.23 579.09,95.68 580.36,94.22C581.63,92.75 582.98,91.37 584.42,90.09C585.85,88.80 587.37,87.62 588.97,86.52C590.56,85.43 592.23,84.43 593.95,83.51C595.67,82.59 597.45,81.75 599.28,81.00C601.10,80.24 602.96,79.56 604.86,78.95C606.75,78.34 608.68,77.81 610.62,77.33C612.55,76.86 614.51,76.45 616.47,76.10C618.43,75.75 620.41,75.46 622.39,75.23C624.38,74.99 626.37,74.80 628.38,74.67C630.38,74.53 632.39,74.44 634.41,74.39C636.43,74.34 638.46,74.34 640.49,74.36C642.52,74.39 644.56,74.46 646.59,74.55C648.63,74.64 650.68,74.77 652.72,74.91C654.76,75.06 656.81,75.23 658.86,75.42C660.90,75.61 662.95,75.82 664.99,76.04C667.03,76.26 669.08,76.49 671.12,76.73C673.15,76.97 675.19,77.21 677.22,77.46C679.25,77.71 681.28,77.97 683.30,78.23C685.32,78.50 687.34,78.77 689.35,79.05C691.37,79.33 693.38,79.62 695.38,79.92C697.39,80.21 699.39,80.52 701.38,80.84C703.38,81.16 705.37,81.49 707.35,81.83C709.34,82.17 711.32,82.53 713.30,82.89C715.27,83.26 717.24,83.64 719.21,84.03C721.17,84.43 723.13,84.84 725.08,85.26C727.04,85.68 728.99,86.12 730.93,86.58C732.87,87.03 734.81,87.50 736.74,87.99C738.67,88.48 740.59,88.98 742.51,89.51C744.43,90.03 746.34,90.58 748.24,91.14C750.15,91.70 752.05,92.29 753.94,92.89C755.83,93.49 757.71,94.12 759.59,94.76C761.47,95.41 763.34,96.08 765.21,96.77C767.07,97.46 768.93,98.17 770.78,98.91C772.63,99.65 774.47,100.41 776.30,101.20C778.14,101.99 779.97,102.80 781.79,103.64C783.60,104.48 785.42,105.35 787.22,106.24C789.02,107.13 790.82,108.05 792.61,109.00C794.40,109.95 796.17,110.93 797.94,111.93C799.71,112.94 801.46,113.97 803.20,115.03C804.95,116.09 806.67,117.17 808.39,118.29C810.10,119.40 811.79,120.54 813.47,121.71C815.15,122.88 816.81,124.07 818.45,125.29C820.08,126.51 821.70,127.76 823.30,129.03C824.89,130.30 826.46,131.60 828.01,132.92C829.55,134.25 831.07,135.60 832.57,136.97C834.06,138.35 835.53,139.75 836.96,141.17C838.40,142.60 839.80,144.05 841.17,145.52C842.54,147.00 843.89,148.50 845.20,150.02C846.51,151.54 847.79,153.08 849.04,154.65C850.29,156.21 851.51,157.80 852.70,159.41C853.90,161.01 855.07,162.64 856.21,164.28C857.35,165.93 858.46,167.59 859.55,169.26C860.65,170.94 861.71,172.64 862.76,174.34C863.80,176.05 864.82,177.78 865.82,179.51C866.82,181.25 867.80,183.00 868.76,184.76C869.72,186.52 870.65,188.29 871.57,190.07C872.50,191.85 873.40,193.64 874.28,195.44C875.17,197.24 876.04,199.05 876.89,200.86C877.74,202.68 878.58,204.50 879.40,206.33C880.22,208.16 881.02,210.00 881.81,211.84C882.60,213.69 883.37,215.54 884.13,217.40C884.89,219.25 885.63,221.12 886.36,222.99C887.09,224.86 887.80,226.74 888.50,228.62C889.20,230.50 889.89,232.39 890.56,234.29C891.24,236.18 891.90,238.08 892.54,239.99C893.19,241.89 893.83,243.80 894.45,245.72C895.07,247.63 895.68,249.55 896.27,251.48C896.87,253.40 897.46,255.33 898.03,257.26C898.60,259.20 899.16,261.13 899.71,263.08C900.27,265.02 900.80,266.96 901.33,268.91C901.86,270.86 902.38,272.81 902.89,274.76C903.40,276.72 903.90,278.68 904.39,280.64C904.87,282.60 905.35,284.56 905.82,286.53C906.29,288.49 906.75,290.46 907.21,292.43C907.66,294.40 908.10,296.37 908.54,298.34C908.97,300.32 909.40,302.29 909.82,304.27C910.24,306.24 910.65,308.22 911.06,310.20C911.46,312.18 911.86,314.16 912.25,316.14C912.64,318.12 913.02,320.10 913.40,322.08C913.78,324.06 914.15,326.04 914.51,328.02C914.88,330.01 915.23,331.99 915.59,333.97C915.94,335.96 916.28,337.94 916.62,339.93C916.96,341.91 917.30,343.90 917.63,345.88C917.96,347.87 918.28,349.86 918.60,351.84C918.92,353.83 919.23,355.82 919.54,357.81C919.85,359.80 920.15,361.79 920.45,363.78C920.75,365.77 921.04,367.76 921.33,369.75C921.62,371.74 921.90,373.73 922.18,375.72C922.46,377.71 922.74,379.70 923.01,381.70C923.29,383.69 923.56,385.68 923.82,387.68C924.09,389.67 924.35,391.66 924.61,393.66C924.87,395.65 925.12,397.65 925.37,399.64C925.63,401.64 925.88,403.63 926.12,405.63C926.37,407.62 926.61,409.62 926.85,411.61C927.09,413.61 927.33,415.61 927.57,417.60C927.81,419.60 928.04,421.60 928.27,423.60C928.51,425.59 928.74,427.59 928.96,429.59C929.19,431.59 929.42,433.58 929.65,435.58C929.87,437.58 930.10,439.58 930.32,441.58C930.54,443.58 930.76,445.57 930.99,447.57C931.21,449.57 931.43,451.57 931.65,453.57C931.87,455.57 932.09,457.57 932.30,459.57C932.52,461.57 932.74,463.57 932.96,465.57C933.18,467.57 933.40,469.57 933.62,471.57C933.84,473.57 934.05,475.57 934.27,477.56C934.49,479.56 934.71,481.56 934.93,483.56C935.16,485.56 935.38,487.56 935.60,489.56C935.82,491.56 936.05,493.56 936.27,495.56C936.50,497.56 936.72,499.56 936.95,501.56C937.18,503.56 937.41,505.56 937.64,507.56C937.87,509.56 938.11,511.56 938.34,513.55C938.58,515.55 938.81,517.55 939.05,519.55C939.30,521.55 939.54,523.55 939.78,525.55C940.03,527.54 940.28,529.54 940.53,531.54C940.78,533.54 941.03,535.53 941.29,537.53C941.55,539.53 941.81,541.53 942.07,543.52C942.34,545.52 942.60,547.52 942.87,549.51C943.15,551.51 943.42,553.50 943.70,555.50L943.70,555.50C944.02,553.50 944.33,551.50 944.63,549.50C944.94,547.50 945.24,545.50 945.53,543.50C945.82,541.51 946.11,539.51 946.39,537.51C946.67,535.51 946.94,533.51 947.21,531.51C947.48,529.51 947.74,527.52 948.00,525.52C948.26,523.52 948.51,521.52 948.76,519.52C949.01,517.53 949.26,515.53 949.50,513.53C949.74,511.54 949.98,509.54 950.21,507.54C950.44,505.54 950.67,503.55 950.90,501.55C951.13,499.55 951.35,497.56 951.57,495.56C951.79,493.57 952.01,491.57 952.23,489.58C952.44,487.58 952.66,485.58 952.87,483.59C953.08,481.60 953.29,479.60 953.50,477.61C953.71,475.61 953.92,473.62 954.12,471.62C954.33,469.63 954.53,467.64 954.74,465.64C954.94,463.65 955.15,461.66 955.35,459.66C955.56,457.67 955.76,455.68 955.97,453.69C956.17,451.70 956.38,449.70 956.58,447.71C956.79,445.72 957.00,443.73 957.20,441.74C957.41,439.75 957.62,437.76 957.83,435.77C958.04,433.78 958.26,431.79 958.47,429.80C958.68,427.81 958.90,425.82 959.12,423.83C959.34,421.84 959.56,419.86 959.79,417.87C960.01,415.88 960.24,413.89 960.47,411.91C960.70,409.92 960.93,407.93 961.17,405.95C961.41,403.96 961.65,401.98 961.90,399.99C962.15,398.01 962.40,396.02 962.65,394.04C962.91,392.05 963.17,390.07 963.43,388.09C963.70,386.10 963.97,384.12 964.24,382.14C964.52,380.15 964.80,378.17 965.09,376.19C965.38,374.21 965.67,372.23 965.97,370.25C966.27,368.27 966.58,366.29 966.89,364.31C967.20,362.33 967.52,360.35 967.85,358.37C968.18,356.39 968.51,354.41 968.85,352.44C969.20,350.46 969.55,348.48 969.91,346.51C970.26,344.53 970.63,342.55 971.01,340.58C971.38,338.60 971.76,336.63 972.16,334.65C972.55,332.68 972.95,330.71 973.36,328.73C973.77,326.76 974.19,324.79 974.63,322.82C975.06,320.85 975.50,318.87 975.95,316.90C976.40,314.93 976.86,312.96 977.33,310.99C977.80,309.02 978.29,307.06 978.78,305.09C979.28,303.12 979.78,301.15 980.30,299.19C980.81,297.22 981.34,295.25 981.88,293.29C982.42,291.32 982.98,289.36 983.54,287.39C984.11,285.43 984.69,283.47 985.28,281.51C985.87,279.55 986.47,277.59 987.09,275.63C987.71,273.68 988.34,271.73 988.99,269.78C989.64,267.83 990.30,265.89 990.98,263.96C991.65,262.02 992.34,260.09 993.05,258.17C993.76,256.25 994.49,254.34 995.23,252.43C995.97,250.52 996.73,248.63 997.50,246.74C998.28,244.85 999.07,242.97 999.88,241.11C1000.69,239.24 1001.52,237.38 1002.37,235.54C1003.21,233.70 1004.08,231.87 1004.96,230.05C1005.85,228.23 1006.75,226.43 1007.68,224.64C1008.60,222.85 1009.55,221.07 1010.52,219.32C1011.48,217.56 1012.47,215.81 1013.48,214.09C1014.48,212.36 1015.51,210.66 1016.57,208.97C1017.62,207.28 1018.69,205.61 1019.79,203.96C1020.88,202.30 1022.00,200.67 1023.15,199.06C1024.29,197.45 1025.46,195.86 1026.65,194.30C1027.84,192.73 1029.05,191.18 1030.29,189.66C1031.53,188.14 1032.79,186.64 1034.08,185.17C1035.37,183.70 1036.69,182.25 1038.03,180.83C1039.37,179.40 1040.74,178.01 1042.14,176.64C1043.53,175.27 1044.95,173.92 1046.40,172.61C1047.85,171.30 1049.33,170.01 1050.83,168.76C1052.33,167.50 1053.86,166.27 1055.42,165.07C1056.97,163.87 1058.55,162.70 1060.16,161.56C1061.76,160.42 1063.38,159.31 1065.03,158.22C1066.68,157.14 1068.35,156.09 1070.04,155.06C1071.74,154.04 1073.45,153.04 1075.18,152.07C1076.91,151.11 1078.66,150.17 1080.43,149.26C1082.20,148.36 1083.99,147.48 1085.79,146.63C1087.60,145.78 1089.42,144.96 1091.26,144.17C1093.09,143.38 1094.94,142.62 1096.81,141.90C1098.67,141.17 1100.55,140.47 1102.45,139.80C1104.34,139.13 1106.24,138.49 1108.16,137.88C1110.07,137.27 1112.00,136.69 1113.94,136.14C1115.88,135.58 1117.83,135.06 1119.78,134.56C1121.74,134.06 1123.70,133.59 1125.68,133.14C1127.65,132.70 1129.63,132.27 1131.62,131.88C1133.61,131.48 1135.61,131.11 1137.61,130.75C1139.61,130.40 1141.62,130.08 1143.63,129.77C1145.64,129.46 1147.65,129.18 1149.67,128.91C1151.69,128.65 1153.71,128.40 1155.74,128.18C1157.76,127.95 1159.79,127.74 1161.81,127.55C1163.84,127.36 1165.87,127.19 1167.90,127.03C1169.93,126.88 1171.95,126.74 1173.98,126.62C1176.01,126.49 1178.04,126.38 1180.06,126.29C1182.09,126.20 1184.11,126.12 1186.14,126.06C1188.16,125.99 1190.19,125.94 1192.21,125.91C1194.24,125.88 1196.26,125.86 1198.28,125.85C1200.30,125.84 1202.32,125.85 1204.35,125.87C1206.37,125.89 1208.39,125.93 1210.40,125.97C1212.42,126.02 1214.44,126.08 1216.46,126.15C1218.48,126.23 1220.49,126.31 1222.51,126.41C1224.52,126.50 1226.54,126.61 1228.55,126.73C1230.56,126.85 1232.58,126.98 1234.59,127.13C1236.60,127.27 1238.61,127.42 1240.62,127.59C1242.63,127.75 1244.63,127.93 1246.64,128.11C1248.65,128.30 1250.65,128.49 1252.66,128.69C1254.66,128.90 1256.66,129.11 1258.66,129.34C1260.67,129.56 1262.67,129.79 1264.67,130.03C1266.66,130.27 1268.66,130.52 1270.66,130.78C1272.65,131.04 1274.65,131.31 1276.64,131.58C1278.63,131.86 1280.63,132.14 1282.62,132.43C1284.61,132.72 1286.60,133.01 1288.58,133.32C1290.57,133.62 1292.55,133.93 1294.54,134.25C1296.52,134.56 1298.50,134.89 1300.48,135.21C1302.47,135.54 1304.44,135.88 1306.42,136.22C1308.40,136.56 1310.37,136.91 1312.35,137.26C1314.32,137.61 1316.29,137.97 1318.26,138.33C1320.23,138.69 1322.20,139.06 1324.17,139.44C1326.13,139.81 1328.10,140.19 1330.06,140.58C1332.03,140.96 1333.99,141.36 1335.95,141.75C1337.91,142.15 1339.87,142.55 1341.83,142.96C1343.78,143.37 1345.74,143.79 1347.69,144.21C1349.65,144.63 1351.60,145.06 1353.55,145.50C1355.50,145.93 1357.45,146.37 1359.40,146.82C1361.35,147.26 1363.29,147.71 1365.24,148.17C1367.18,148.63 1369.13,149.09 1371.07,149.57C1373.01,150.04 1374.95,150.51 1376.89,151.00C1378.83,151.48 1380.77,151.97 1382.70,152.47C1384.64,152.96 1386.58,153.46 1388.51,153.97C1390.44,154.48 1392.38,155.00 1394.31,155.52C1396.24,156.04 1398.17,156.57 1400.10,157.10C1402.02,157.64 1403.95,158.18 1405.88,158.72C1407.80,159.27 1409.73,159.83 1411.65,160.39C1413.58,160.95 1415.50,161.51 1417.42,162.09C1419.34,162.66 1421.26,163.24 1423.18,163.83C1425.10,164.42 1427.01,165.01 1428.93,165.61C1430.85,166.21 1432.76,166.82 1434.67,167.44C1436.59,168.05 1438.50,168.67 1440.41,169.30C1442.32,169.93 1444.23,170.56 1446.14,171.21C1448.05,171.85 1449.96,172.50 1451.86,173.15C1453.77,173.81 1455.67,174.47 1457.57,175.14C1459.48,175.81 1461.38,176.49 1463.27,177.18C1465.17,177.86 1467.07,178.56 1468.96,179.26C1470.85,179.96 1472.74,180.66 1474.63,181.38C1476.52,182.09 1478.41,182.82 1480.29,183.55C1482.17,184.28 1484.05,185.01 1485.93,185.76C1487.81,186.50 1489.68,187.26 1491.55,188.02C1493.42,188.78 1495.29,189.55 1497.16,190.32C1499.02,191.10 1500.88,191.89 1502.74,192.68C1504.60,193.47 1506.45,194.27 1508.30,195.08C1510.16,195.89 1512.00,196.70 1513.85,197.53C1515.69,198.35 1517.53,199.19 1519.36,200.03C1521.20,200.87 1523.03,201.72 1524.86,202.58C1526.68,203.43 1528.51,204.30 1530.32,205.17C1532.14,206.05 1533.96,206.93 1535.77,207.82C1537.57,208.72 1539.38,209.62 1541.18,210.52C1542.98,211.43 1544.77,212.35 1546.56,213.28C1548.35,214.20 1550.13,215.14 1551.91,216.08C1553.69,217.03 1555.47,217.98 1557.23,218.94C1559.00,219.90 1560.77,220.87 1562.52,221.85C1564.28,222.83 1566.03,223.82 1567.78,224.82C1569.52,225.82 1571.26,226.82 1573.00,227.84C1574.73,228.85 1576.46,229.88 1578.18,230.91C1579.90,231.95 1581.62,232.99 1583.32,234.05C1585.03,235.10 1586.73,236.16 1588.43,237.23C1590.13,238.31 1591.81,239.39 1593.50,240.48C1595.18,241.57 1596.85,242.67 1598.52,243.78C1600.19,244.89 1601.85,246.01 1603.50,247.14C1605.16,248.27 1606.80,249.41 1608.44,250.56C1610.08,251.71 1611.71,252.87 1613.34,254.04C1614.96,255.21 1616.58,256.39 1618.19,257.58C1619.80,258.77 1621.40,259.97 1622.99,261.18C1624.58,262.39 1626.17,263.61 1627.74,264.84C1629.32,266.07 1630.89,267.31 1632.45,268.56C1634.01,269.82 1635.56,271.08 1637.10,272.35C1638.64,273.62 1640.18,274.90 1641.70,276.20C1643.23,277.49 1644.74,278.79 1646.25,280.11C1647.76,281.42 1649.26,282.74 1650.75,284.08C1652.24,285.42 1653.72,286.76 1655.19,288.12C1656.66,289.48 1658.12,290.84 1659.57,292.22C1661.02,293.60 1662.46,294.99 1663.90,296.39C1665.33,297.79 1666.75,299.20 1668.16,300.63C1669.58,302.05 1670.98,303.48 1672.37,304.93C1673.76,306.37 1675.14,307.83 1676.52,309.29C1677.89,310.76 1679.25,312.24 1680.60,313.72C1681.95,315.21 1683.29,316.71 1684.62,318.21C1685.95,319.72 1687.28,321.24 1688.58,322.76C1689.89,324.29 1691.19,325.83 1692.48,327.37C1693.77,328.92 1695.05,330.48 1696.31,332.04C1697.58,333.61 1698.84,335.18 1700.08,336.76C1701.33,338.35 1702.56,339.94 1703.78,341.54C1705.00,343.14 1706.22,344.75 1707.42,346.37C1708.62,347.99 1709.81,349.62 1710.98,351.26C1712.16,352.89 1713.33,354.54 1714.48,356.19C1715.64,357.84 1716.78,359.50 1717.91,361.17C1719.05,362.84 1720.17,364.52 1721.27,366.20C1722.38,367.89 1723.48,369.58 1724.56,371.28C1725.65,372.98 1726.72,374.68 1727.78,376.40C1728.85,378.11 1729.89,379.83 1730.93,381.56C1731.97,383.29 1732.99,385.03 1734.01,386.77C1735.02,388.51 1736.02,390.26 1737.01,392.02C1738.00,393.77 1738.97,395.53 1739.94,397.30C1740.90,399.07 1741.85,400.85 1742.79,402.63C1743.73,404.41 1744.65,406.19 1745.56,407.99C1746.48,409.78 1747.38,411.58 1748.27,413.38C1749.15,415.19 1750.03,417.00 1750.89,418.81C1751.75,420.63 1752.61,422.45 1753.44,424.27C1754.28,426.10 1755.11,427.93 1755.93,429.76C1756.74,431.60 1757.54,433.44 1758.34,435.29C1759.13,437.13 1759.91,438.98 1760.68,440.84C1761.45,442.69 1762.21,444.55 1762.95,446.42C1763.70,448.28 1764.44,450.15 1765.16,452.02C1765.89,453.90 1766.60,455.78 1767.31,457.66C1768.01,459.54 1768.70,461.42 1769.39,463.31C1770.07,465.20 1770.74,467.09 1771.41,468.99C1772.07,470.89 1772.72,472.79 1773.37,474.69C1774.01,476.59 1774.65,478.50 1775.27,480.41C1775.89,482.32 1776.51,484.23 1777.11,486.15C1777.72,488.07 1778.32,489.99 1778.91,491.91C1779.49,493.83 1780.07,495.75 1780.64,497.68C1781.21,499.61 1781.77,501.54 1782.33,503.47C1782.88,505.40 1783.42,507.34 1783.96,509.28C1784.49,511.21 1785.02,513.15 1785.54,515.09C1786.06,517.04 1786.57,518.98 1787.08,520.92C1787.58,522.87 1788.08,524.82 1788.57,526.76C1789.06,528.71 1789.54,530.66 1790.01,532.62C1790.49,534.57 1790.96,536.52 1791.42,538.47C1791.88,540.43 1792.33,542.38 1792.78,544.34C1793.22,546.30 1793.66,548.26 1794.09,550.21C1794.53,552.17 1794.95,554.13 1795.37,556.10C1795.79,558.06 1796.20,560.02 1796.61,561.99C1797.02,563.95 1797.42,565.92 1797.81,567.88C1798.20,569.85 1798.59,571.82 1798.97,573.79C1799.35,575.75 1799.72,577.73 1800.09,579.70C1800.46,581.67 1800.82,583.64 1801.18,585.61C1801.53,587.59 1801.88,589.56 1802.23,591.54C1802.57,593.51 1802.91,595.49 1803.24,597.47C1803.58,599.44 1803.90,601.42 1804.22,603.40C1804.55,605.38 1804.86,607.36 1805.17,609.34C1805.48,611.33 1805.79,613.31 1806.09,615.29C1806.39,617.28 1806.68,619.26 1806.97,621.24C1807.26,623.23 1807.54,625.22 1807.82,627.20C1808.10,629.19 1808.37,631.18 1808.64,633.17C1808.91,635.16 1809.17,637.14 1809.43,639.13C1809.69,641.13 1809.95,643.12 1810.19,645.11C1810.44,647.10 1810.69,649.09 1810.93,651.09C1811.17,653.08 1811.41,655.07 1811.64,657.07C1811.87,659.06 1812.09,661.06 1812.32,663.05C1812.54,665.05 1812.76,667.05 1812.97,669.04C1813.19,671.04 1813.40,673.04 1813.60,675.04C1813.81,677.04 1814.01,679.04 1814.21,681.04C1814.41,683.04 1814.60,685.04 1814.79,687.04C1814.98,689.04 1815.17,691.04 1815.35,693.04C1815.54,695.04 1815.72,697.05 1815.89,699.05C1816.07,701.05 1816.24,703.06 1816.41,705.06C1816.58,707.06 1816.75,709.07 1816.91,711.07C1817.07,713.08 1817.23,715.08 1817.39,717.09C1817.55,719.09 1817.70,721.10 1817.85,723.11C1818.00,725.11 1818.15,727.12 1818.29,729.13C1818.44,731.13 1818.58,733.14 1818.72,735.15C1818.86,737.16 1818.99,739.17 1819.13,741.17C1819.26,743.18 1819.39,745.19 1819.52,747.20C1819.65,749.21 1819.78,751.22 1819.90,753.23C1820.03,755.23 1820.15,757.24 1820.27,759.25C1820.39,761.26 1820.51,763.27 1820.62,765.28C1820.74,767.29 1820.85,769.30 1820.96,771.31C1821.08,773.32 1821.19,775.33 1821.29,777.34C1821.40,779.35 1821.51,781.36 1821.61,783.37C1821.72,785.38 1821.82,787.39 1821.92,789.41C1822.03,791.42 1822.13,793.43 1822.22,795.44C1822.32,797.45 1822.42,799.46 1822.52,801.47C1822.61,803.48 1822.71,805.49 1822.80,807.50C1822.90,809.51 1822.99,811.52 1823.08,813.53C1823.17,815.54 1823.26,817.55 1823.35,819.56C1823.44,821.57 1823.53,823.58 1823.61,825.59C1823.70,827.60 1823.79,829.61 1823.87,831.62C1823.95,833.63 1824.04,835.64 1824.12,837.65C1824.20,839.66 1824.28,841.67 1824.36,843.68C1824.44,845.69 1824.52,847.70 1824.60,849.71C1824.68,851.72 1824.75,853.73 1824.83,855.74C1824.90,857.75 1824.98,859.76 1825.05,861.76C1825.12,863.77 1825.20,865.78 1825.27,867.79C1825.34,869.80 1825.41,871.81 1825.48,873.82C1825.55,875.83 1825.61,877.84 1825.68,879.85C1825.75,881.86 1825.81,883.87 1825.88,885.88C1825.94,887.89 1826.01,889.90 1826.07,891.90C1826.13,893.91 1826.19,895.92 1826.25,897.93C1826.32,899.94 1826.38,901.95 1826.43,903.96C1826.49,905.97 1826.55,907.98 1826.61,909.99C1826.67,912.00 1826.72,914.01 1826.78,916.01C1826.83,918.02 1826.89,920.03 1826.94,922.04C1826.99,924.05 1827.05,926.06 1827.10,928.07C1827.15,930.08 1827.20,932.09 1827.25,934.09C1827.30,936.10 1827.35,938.11 1827.40,940.12C1827.45,942.13 1827.49,944.14 1827.54,946.15C1827.59,948.16 1827.63,950.17 1827.68,952.17C1827.72,954.18 1827.77,956.19 1827.81,958.20C1827.85,960.21 1827.90,962.22 1827.94,964.23C1827.98,966.24 1828.02,968.24 1828.06,970.25C1828.10,972.26 1828.14,974.27 1828.18,976.28C1828.22,978.29 1828.25,980.30 1828.29,982.30C1828.33,984.31 1828.37,986.32 1828.40,988.33C1828.44,990.34 1828.47,992.35 1828.51,994.36C1828.54,996.36 1828.57,998.37 1828.61,1000.38C1828.64,1002.39 1828.67,1004.40 1828.70,1006.41C1828.74,1008.42 1828.77,1010.43 1828.80,1012.43C1828.83,1014.44 1828.86,1016.45 1828.89,1018.46C1828.92,1020.47 1828.94,1022.48 1828.97,1024.49C1829.00,1026.49 1829.03,1028.50 1829.05,1030.51C1829.08,1032.52 1829.11,1034.53 1829.13,1036.54C1829.16,1038.55 1829.18,1040.55 1829.21,1042.56C1829.23,1044.57 1829.25,1046.58 1829.28,1048.59C1829.30,1050.60 1829.32,1052.61 1829.35,1054.61C1829.37,1056.62 1829.39,1058.63 1829.41,1060.64C1829.43,1062.65 1829.45,1064.66 1829.47,1066.67C1829.49,1068.67 1829.51,1070.68 1829.53,1072.69C1829.55,1074.70 1829.57,1076.71 1829.59,1078.72C1829.61,1080.73 1829.62,1082.74 1829.64,1084.74C1829.66,1086.75 1829.68,1088.76 1829.69,1090.77C1829.71,1092.78 1829.73,1094.79 1829.74,1096.80C1829.76,1098.80 1829.77,1100.81 1829.79,1102.82C1829.80,1104.83 1829.82,1106.84 1829.83,1108.85C1829.85,1110.86 1829.86,1112.87 1829.87,1114.88C1829.89,1116.88 1829.90,1118.89 1829.91,1120.90C1829.93,1122.91 1829.94,1124.92 1829.95,1126.93C1829.96,1128.94 1829.97,1130.95 1829.99,1132.96C1830.00,1134.96 1830.01,1136.97 1830.02,1138.98C1830.03,1140.99 1830.04,1143.00 1830.05,1145.01C1830.06,1147.02 1830.07,1149.03 1830.08,1151.04C1830.09,1153.05 1830.10,1155.06 1830.11,1157.06C1830.12,1159.07 1830.13,1161.08 1830.14,1163.09C1830.15,1165.10 1830.16,1167.11 1830.16,1169.12C1830.17,1171.13 1830.18,1173.14 1830.19,1175.15C1830.20,1177.16 1830.21,1179.17 1830.21,1181.18C1830.22,1183.19 1830.23,1185.20 1830.24,1187.20C1830.24,1189.21 1830.25,1191.22 1830.26,1193.23C1830.27,1195.24 1830.27,1197.25 1830.28,1199.26C1830.29,1201.27 1830.29,1203.28 1830.30,1205.29C1830.31,1207.30 1830.31,1209.31 1830.32,1211.32C1830.33,1213.33 1830.33,1215.34 1830.34,1217.35C1830.35,1219.36 1830.35,1221.37 1830.36,1223.38C1830.37,1225.39 1830.37,1227.40 1830.38,1229.41C1830.39,1231.42 1830.39,1233.43 1830.40,1235.44C1830.41,1237.45 1830.41,1239.46 1830.42,1241.47C1830.42,1243.48 1830.43,1245.49 1830.44,1247.50C1830.44,1249.51 1830.45,1251.52 1830.46,1253.53C1830.46,1255.54 1830.47,1257.55 1830.48,1259.56C1830.48,1261.57 1830.49,1263.58 1830.50,1265.59C1830.50,1267.61 1830.51,1269.62 1830.52,1271.63C1830.52,1273.64 1830.53,1275.65 1830.54,1277.66C1830.54,1279.67 1830.55,1281.68 1830.56,1283.69C1830.57,1285.70 1830.57,1287.71 1830.58,1289.72C1830.59,1291.74 1830.60,1293.75 1830.60,1295.76C1830.61,1297.77 1830.62,1299.78 1830.63,1301.79C1830.64,1303.80 1830.64,1305.81 1830.65,1307.83C1830.66,1309.84 1830.67,1311.85 1830.68,1313.86C1830.69,1315.87 1830.70,1317.88 1830.71,1319.89C1830.72,1321.91 1830.73,1323.92 1830.74,1325.93C1830.75,1327.94 1830.76,1329.95 1830.77,1331.96C1830.78,1333.98 1830.79,1335.99 1830.80,1338.00L1830.80,1338.00C1830.81,1335.98 1830.82,1333.95 1830.83,1331.93C1830.83,1329.91 1830.84,1327.88 1830.85,1325.86C1830.86,1323.84 1830.86,1321.81 1830.87,1319.79C1830.88,1317.77 1830.89,1315.74 1830.89,1313.72C1830.90,1311.70 1830.91,1309.67 1830.91,1307.65C1830.92,1305.63 1830.92,1303.60 1830.93,1301.58C1830.94,1299.56 1830.94,1297.53 1830.95,1295.51C1830.95,1293.49 1830.96,1291.47 1830.96,1289.44C1830.97,1287.42 1830.97,1285.40 1830.98,1283.38C1830.98,1281.35 1830.99,1279.33 1830.99,1277.31C1831.00,1275.29 1831.00,1273.26 1831.01,1271.24C1831.01,1269.22 1831.01,1267.20 1831.02,1265.17C1831.02,1263.15 1831.03,1261.13 1831.03,1259.11C1831.04,1257.08 1831.04,1255.06 1831.04,1253.04C1831.05,1251.02 1831.05,1249.00 1831.06,1246.97C1831.06,1244.95 1831.06,1242.93 1831.07,1240.91C1831.07,1238.89 1831.08,1236.86 1831.08,1234.84C1831.08,1232.82 1831.09,1230.80 1831.09,1228.78C1831.10,1226.75 1831.10,1224.73 1831.11,1222.71C1831.11,1220.69 1831.11,1218.67 1831.12,1216.65C1831.12,1214.62 1831.13,1212.60 1831.13,1210.58C1831.14,1208.56 1831.14,1206.54 1831.15,1204.52C1831.15,1202.49 1831.15,1200.47 1831.16,1198.45C1831.16,1196.43 1831.17,1194.41 1831.18,1192.39C1831.18,1190.37 1831.19,1188.35 1831.19,1186.32C1831.20,1184.30 1831.20,1182.28 1831.21,1180.26C1831.21,1178.24 1831.22,1176.22 1831.23,1174.20C1831.23,1172.18 1831.24,1170.15 1831.25,1168.13C1831.25,1166.11 1831.26,1164.09 1831.27,1162.07C1831.27,1160.05 1831.28,1158.03 1831.29,1156.01C1831.30,1153.99 1831.31,1151.97 1831.31,1149.94C1831.32,1147.92 1831.33,1145.90 1831.34,1143.88C1831.35,1141.86 1831.36,1139.84 1831.37,1137.82C1831.38,1135.80 1831.39,1133.78 1831.40,1131.76C1831.41,1129.74 1831.42,1127.72 1831.43,1125.69C1831.44,1123.67 1831.45,1121.65 1831.46,1119.63C1831.47,1117.61 1831.48,1115.59 1831.50,1113.57C1831.51,1111.55 1831.52,1109.53 1831.53,1107.51C1831.55,1105.49 1831.56,1103.47 1831.58,1101.45C1831.59,1099.43 1831.60,1097.41 1831.62,1095.39C1831.63,1093.36 1831.65,1091.34 1831.66,1089.32C1831.68,1087.30 1831.70,1085.28 1831.71,1083.26C1831.73,1081.24 1831.75,1079.22 1831.76,1077.20C1831.78,1075.18 1831.80,1073.16 1831.82,1071.14C1831.84,1069.12 1831.86,1067.10 1831.88,1065.08C1831.90,1063.06 1831.92,1061.04 1831.94,1059.02C1831.96,1057.00 1831.98,1054.98 1832.00,1052.96C1832.02,1050.94 1832.05,1048.92 1832.07,1046.90C1832.09,1044.87 1832.12,1042.85 1832.14,1040.83C1832.16,1038.81 1832.19,1036.79 1832.22,1034.77C1832.24,1032.75 1832.27,1030.73 1832.29,1028.71C1832.32,1026.69 1832.35,1024.67 1832.38,1022.65C1832.40,1020.63 1832.43,1018.61 1832.46,1016.59C1832.49,1014.57 1832.52,1012.55 1832.55,1010.53C1832.58,1008.51 1832.62,1006.49 1832.65,1004.47C1832.68,1002.45 1832.71,1000.43 1832.75,998.41C1832.78,996.39 1832.82,994.37 1832.85,992.35C1832.89,990.33 1832.92,988.31 1832.96,986.29C1833.00,984.27 1833.04,982.25 1833.07,980.23C1833.11,978.21 1833.15,976.18 1833.19,974.16C1833.23,972.14 1833.27,970.12 1833.31,968.10C1833.36,966.08 1833.40,964.06 1833.44,962.04C1833.49,960.02 1833.53,958.00 1833.58,955.98C1833.62,953.96 1833.67,951.94 1833.71,949.92C1833.76,947.90 1833.81,945.88 1833.86,943.86C1833.91,941.84 1833.96,939.82 1834.01,937.80C1834.06,935.78 1834.11,933.76 1834.16,931.74C1834.21,929.72 1834.27,927.70 1834.32,925.68C1834.38,923.65 1834.43,921.63 1834.49,919.61C1834.54,917.59 1834.60,915.57 1834.66,913.55C1834.72,911.53 1834.78,909.51 1834.84,907.49C1834.90,905.47 1834.96,903.45 1835.02,901.43C1835.09,899.41 1835.15,897.39 1835.21,895.37C1835.28,893.35 1835.34,891.33 1835.41,889.30C1835.48,887.28 1835.55,885.26 1835.61,883.24C1835.68,881.22 1835.75,879.20 1835.82,877.18C1835.90,875.16 1835.97,873.14 1836.04,871.12C1836.11,869.10 1836.19,867.08 1836.26,865.06C1836.34,863.03 1836.42,861.01 1836.49,858.99C1836.57,856.97 1836.65,854.95 1836.73,852.93C1836.81,850.91 1836.89,848.89 1836.98,846.87C1837.06,844.85 1837.14,842.82 1837.23,840.80C1837.31,838.78 1837.40,836.76 1837.49,834.74C1837.58,832.72 1837.66,830.70 1837.75,828.68C1837.84,826.65 1837.94,824.63 1838.03,822.61C1838.12,820.59 1838.22,818.57 1838.31,816.55C1838.41,814.53 1838.50,812.50 1838.60,810.48C1838.70,808.46 1838.80,806.44 1838.90,804.42C1839.00,802.40 1839.10,800.38 1839.20,798.35C1839.31,796.33 1839.41,794.31 1839.52,792.29C1839.62,790.27 1839.73,788.25 1839.84,786.22C1839.95,784.20 1840.06,782.18 1840.17,780.16C1840.28,778.14 1840.40,776.11 1840.51,774.09C1840.63,772.07 1840.74,770.05 1840.86,768.03C1840.98,766.01 1841.10,763.98 1841.22,761.96C1841.34,759.94 1841.47,757.92 1841.59,755.90C1841.72,753.88 1841.85,751.85 1841.98,749.83C1842.11,747.81 1842.24,745.79 1842.38,743.77C1842.51,741.75 1842.65,739.73 1842.79,737.71C1842.93,735.69 1843.07,733.67 1843.22,731.65C1843.36,729.63 1843.51,727.61 1843.66,725.59C1843.81,723.57 1843.97,721.56 1844.13,719.54C1844.28,717.52 1844.44,715.50 1844.61,713.48C1844.77,711.47 1844.94,709.45 1845.11,707.43C1845.28,705.42 1845.45,703.40 1845.63,701.38C1845.81,699.37 1845.99,697.35 1846.17,695.34C1846.35,693.33 1846.54,691.31 1846.74,689.30C1846.93,687.29 1847.12,685.27 1847.32,683.26C1847.52,681.25 1847.73,679.24 1847.93,677.23C1848.14,675.22 1848.36,673.21 1848.57,671.20C1848.79,669.19 1849.01,667.18 1849.24,665.17C1849.46,663.16 1849.69,661.16 1849.93,659.15C1850.16,657.14 1850.40,655.14 1850.64,653.13C1850.89,651.13 1851.14,649.12 1851.39,647.12C1851.64,645.12 1851.90,643.12 1852.17,641.11C1852.43,639.11 1852.70,637.11 1852.98,635.11C1853.25,633.11 1853.53,631.12 1853.82,629.12C1854.10,627.12 1854.39,625.13 1854.69,623.13C1854.99,621.13 1855.29,619.14 1855.59,617.15C1855.90,615.15 1856.22,613.16 1856.54,611.17C1856.86,609.18 1857.18,607.19 1857.51,605.20C1857.84,603.21 1858.18,601.23 1858.53,599.24C1858.87,597.25 1859.22,595.27 1859.58,593.28C1859.93,591.30 1860.30,589.32 1860.67,587.34C1861.04,585.35 1861.41,583.37 1861.80,581.40C1862.18,579.42 1862.57,577.44 1862.96,575.46C1863.36,573.49 1863.76,571.51 1864.18,569.54C1864.59,567.57 1865.00,565.60 1865.43,563.63C1865.85,561.65 1866.29,559.69 1866.72,557.72C1867.16,555.75 1867.61,553.79 1868.07,551.82C1868.52,549.86 1868.98,547.89 1869.45,545.93C1869.92,543.97 1870.40,542.01 1870.88,540.05C1871.37,538.10 1871.86,536.14 1872.36,534.18C1872.86,532.23 1873.37,530.28 1873.89,528.33C1874.41,526.37 1874.93,524.42 1875.46,522.48C1876.00,520.53 1876.54,518.58 1877.09,516.64C1877.64,514.69 1878.20,512.75 1878.77,510.81C1879.34,508.87 1879.91,506.93 1880.50,504.99C1881.08,503.06 1881.68,501.12 1882.28,499.19C1882.88,497.25 1883.49,495.32 1884.11,493.40C1884.73,491.47 1885.36,489.54 1886.00,487.62C1886.64,485.70 1887.29,483.78 1887.95,481.86C1888.60,479.94 1889.27,478.03 1889.95,476.11C1890.62,474.20 1891.31,472.29 1892.00,470.39C1892.70,468.48 1893.40,466.58 1894.12,464.68C1894.83,462.79 1895.56,460.89 1896.29,459.00C1897.02,457.11 1897.77,455.22 1898.52,453.34C1899.28,451.46 1900.04,449.58 1900.81,447.70C1901.59,445.83 1902.37,443.96 1903.17,442.09C1903.96,440.22 1904.76,438.36 1905.58,436.50C1906.39,434.65 1907.22,432.79 1908.05,430.95C1908.89,429.10 1909.74,427.26 1910.60,425.42C1911.45,423.59 1912.32,421.76 1913.20,419.93C1914.08,418.11 1914.97,416.29 1915.88,414.48C1916.78,412.67 1917.69,410.86 1918.62,409.06C1919.55,407.26 1920.48,405.47 1921.43,403.69C1922.38,401.90 1923.35,400.13 1924.32,398.36C1925.30,396.59 1926.28,394.83 1927.28,393.07C1928.28,391.32 1929.29,389.57 1930.32,387.84C1931.34,386.10 1932.38,384.37 1933.43,382.65C1934.48,380.93 1935.54,379.22 1936.62,377.52C1937.70,375.82 1938.79,374.13 1939.89,372.44C1941.00,370.76 1942.11,369.09 1943.25,367.43C1944.38,365.76 1945.52,364.11 1946.68,362.47C1947.84,360.83 1949.01,359.19 1950.20,357.57C1951.38,355.95 1952.58,354.34 1953.80,352.75C1955.01,351.15 1956.24,349.56 1957.49,347.98C1958.73,346.41 1959.99,344.85 1961.26,343.29C1962.53,341.74 1963.82,340.20 1965.12,338.68C1966.43,337.15 1967.74,335.64 1969.08,334.14C1970.41,332.63 1971.76,331.15 1973.12,329.67C1974.48,328.20 1975.86,326.74 1977.25,325.29C1978.65,323.84 1980.06,322.41 1981.48,320.99C1982.90,319.57 1984.34,318.16 1985.80,316.77C1987.26,315.38 1988.73,314.00 1990.21,312.64C1991.70,311.28 1993.20,309.93 1994.72,308.60C1996.24,307.27 1997.78,305.95 1999.33,304.65C2000.88,303.35 2002.45,302.07 2004.03,300.80C2005.61,299.53 2007.21,298.28 2008.83,297.04C2010.44,295.80 2012.07,294.58 2013.72,293.38C2015.37,292.17 2017.03,290.99 2018.72,289.82C2020.40,288.64 2022.09,287.49 2023.81,286.36C2025.52,285.22 2027.25,284.10 2029.00,283.00"/>
</g>

<g fill="#000" shape-rendering="crispEdges">
<rect x="498" y="51" width="6" height="25"/><rect x="498" y="1457" width="6" height="26"/>
<rect x="752" y="51" width="6" height="25"/><rect x="752" y="1457" width="6" height="26"/>
<rect x="1007" y="51" width="5" height="25"/><rect x="1007" y="1457" width="5" height="26"/>
<rect x="1261" y="51" width="6" height="25"/><rect x="1261" y="1457" width="6" height="26"/>
<rect x="1517" y="51" width="5" height="25"/><rect x="1517" y="1457" width="5" height="26"/>
<rect x="1771" y="51" width="6" height="25"/><rect x="1771" y="1457" width="6" height="26"/>
<rect x="248" y="237" width="25" height="6"/><rect x="2000" y="237" width="26" height="6"/>
<rect x="248" y="429" width="25" height="6"/><rect x="2000" y="429" width="26" height="6"/>
<rect x="248" y="621" width="25" height="5"/><rect x="2000" y="621" width="26" height="5"/>
<rect x="248" y="812" width="25" height="6"/><rect x="2000" y="812" width="26" height="6"/>
<rect x="248" y="1004" width="25" height="6"/><rect x="2000" y="1004" width="26" height="6"/>
<rect x="248" y="1195" width="25" height="6"/><rect x="2000" y="1195" width="26" height="6"/>
<rect x="248" y="1387" width="25" height="6"/><rect x="2000" y="1387" width="26" height="6"/>
<rect x="243" y="46" width="5" height="1442"/>
<rect x="2026" y="46" width="6" height="1442"/>
<rect x="243" y="46" width="1789" height="5"/>
<rect x="243" y="1483" width="1789" height="5"/>
</g>
<g class="t">
<text x="246.00" y="1561" text-anchor="middle">2</text>
<text x="501.50" y="1561" text-anchor="middle">4</text>
<text x="755.50" y="1561" text-anchor="middle">6</text>
<text x="1010.00" y="1561" text-anchor="middle">8</text>
<text x="1264.50" y="1561" text-anchor="middle">10</text>
<text x="1520.00" y="1561" text-anchor="middle">12</text>
<text x="1774.50" y="1561" text-anchor="middle">14</text>
<text x="2029.50" y="1561" text-anchor="middle">16</text>
<text x="214.3" y="65.20" text-anchor="end">0</text>
<text x="214.3" y="256.70" text-anchor="end">−10</text>
<text x="214.3" y="448.70" text-anchor="end">−20</text>
<text x="214.3" y="640.20" text-anchor="end">−30</text>
<text x="214.3" y="831.70" text-anchor="end">−40</text>
<text x="214.3" y="1023.70" text-anchor="end">−50</text>
<text x="214.3" y="1214.70" text-anchor="end">−60</text>
<text x="214.3" y="1406.70" text-anchor="end">−70</text>
</g>
<text class="l" x="1136.5" y="1679" text-anchor="middle">Frequency/GHz</text>
<text class="l" transform="translate(73.4,809) rotate(-90)" text-anchor="start"><tspan font-style="italic">S</tspan><tspan font-size="52.5px" dx="0" dy="20">11</tspan></text>
<rect x="1268" y="406.3" width="355.20000000000005" height="194.7" fill="#fff" stroke="#000" stroke-width="2.0"/>
<g fill="none" stroke-width="6.25" stroke-linecap="round"><path stroke="#ff0000" d="M1279,458 H1445"/><path stroke="#0000ff" d="M1279,549.5 H1445"/></g>
<text class="l" x="1463.5" y="482">CST</text>
<text class="l" x="1463.5" y="574">ADS</text>
</svg>
</body></html>
